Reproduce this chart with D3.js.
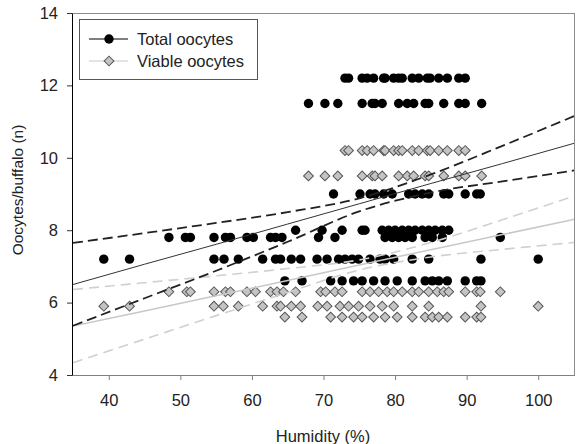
<!DOCTYPE html>
<html>
<head>
<meta charset="utf-8">
<script src="https://cdn.jsdelivr.net/npm/d3@7"></script>
<style>
  body { margin: 0; background: #fff; }
  svg { display: block; font-family: "Liberation Sans", Arial, sans-serif; }
</style>
</head>
<body>
<svg id="chart"></svg>
<script>
// rows of points: one count level and the humidity values found on it
const totalLevels = [12.2, 11.5, 9.0, 8.0, 7.8, 7.2, 6.6];
const totalHumidity = [
  [73.0, 73.5, 75.4, 76.1, 77.0, 78.4, 78.6, 79.8, 80.5, 81.0, 82.4, 83.3, 84.5, 84.9, 86.1, 87.3, 88.9, 89.8],
  [67.9, 70.2, 72.0, 75.4, 76.8, 77.2, 78.2, 80.5, 81.7, 82.6, 84.2, 84.7, 86.8, 88.9, 89.8, 92.1],
  [71.4, 75.1, 76.5, 77.2, 78.4, 79.6, 81.9, 82.8, 83.8, 84.7, 86.8, 87.5, 89.8, 91.4, 91.9],
  [66.1, 69.8, 72.6, 75.4, 75.8, 78.2, 79.1, 80.0, 81.0, 81.9, 82.8, 83.8, 84.7, 85.6, 86.6, 87.5],
  [48.4, 50.7, 51.4, 54.7, 56.3, 57.0, 59.3, 60.2, 62.6, 63.3, 64.2, 69.3, 71.6, 78.6, 79.6, 80.5, 81.4, 82.4, 84.2, 85.2, 86.6, 94.7],
  [39.3, 42.9, 54.7, 56.1, 58.1, 61.5, 63.3, 64.0, 65.5, 66.8, 69.1, 70.5, 72.1, 73.0, 74.0, 74.9, 76.5, 77.9, 78.6, 79.8, 82.4, 84.7, 92.0, 100.0],
  [64.6, 67.0, 71.0, 72.6, 74.2, 75.4, 77.0, 78.6, 80.3, 82.4, 84.2, 85.2, 86.1, 87.3, 89.8, 91.4, 92.0]
];

const viableLevels = [10.2, 9.5, 6.3, 5.9, 5.6];
const viableHumidity = [
  [73.0, 73.5, 75.4, 76.1, 77.0, 78.4, 78.6, 79.8, 80.5, 81.0, 82.4, 83.3, 84.5, 84.9, 86.1, 87.3, 88.9, 89.8],
  [67.9, 70.2, 72.0, 75.4, 76.8, 77.2, 78.2, 80.5, 81.7, 82.6, 84.2, 84.7, 86.8, 88.9, 89.8, 92.1],
  [48.4, 50.9, 51.4, 54.7, 56.3, 57.0, 59.3, 60.5, 62.6, 63.5, 64.4, 66.1, 69.6, 70.3, 71.6, 72.6, 75.4, 76.5, 77.7, 78.9, 79.8, 81.0, 82.4, 83.3, 84.7, 85.9, 86.8, 87.5, 89.8, 91.4, 91.9, 94.7],
  [39.3, 42.9, 54.7, 56.0, 58.1, 61.5, 63.5, 64.0, 65.5, 66.8, 69.2, 70.5, 72.3, 73.5, 74.9, 76.5, 78.2, 79.8, 82.4, 84.7, 92.0, 100.0],
  [64.6, 67.0, 71.0, 72.6, 74.2, 75.4, 77.0, 78.6, 80.3, 82.4, 84.2, 85.2, 86.1, 87.3, 89.8, 91.4, 92.0]
];

// regression lines and 95% bands, read at these humidities
const bandX = [35, 45, 55, 65, 75, 85, 95, 105];
const totalFit = [6.50, 7.06, 7.61, 8.17, 8.73, 9.29, 9.84, 10.40];
const totalUpper = [7.65, 7.92, 8.20, 8.50, 8.88, 9.54, 10.33, 11.15];
const totalLower = [5.36, 6.12, 6.88, 7.68, 8.52, 9.04, 9.35, 9.65];
const viableFit = [5.35, 5.77, 6.19, 6.61, 7.04, 7.46, 7.88, 8.30];
const viableUpper = [6.36, 6.55, 6.74, 6.94, 7.18, 7.66, 8.29, 8.94];
const viableLower = [4.34, 4.99, 5.64, 6.28, 6.90, 7.26, 7.47, 7.66];

const xTicks = [40, 50, 60, 70, 80, 90, 100];
const yTicks = [4, 6, 8, 10, 12, 14];
const seriesNames = ["Total oocytes", "Viable oocytes"];

const W = 576, H = 444;
const svg = d3.select("#chart").attr("width", W).attr("height", H);

const x = d3.scaleLinear().domain([35, 105]).range([73, 574]);
const y = d3.scaleLinear().domain([4, 14]).range([375, 13]);

// frame
svg.append("rect")
  .attr("x", 72.5).attr("y", 13.5)
  .attr("width", 574.5 - 72.5).attr("height", 375.5 - 13.5)
  .attr("fill", "none").attr("stroke", "#8c8c8c").attr("stroke-width", 1);

// points
const totalPts = totalLevels.flatMap((v, i) => totalHumidity[i].map(h => ({h: h, v: v})));
const viablePts = viableLevels.flatMap((v, i) => viableHumidity[i].map(h => ({h: h, v: v})));

svg.append("g").selectAll("circle")
  .data(totalPts).enter().append("circle")
  .attr("cx", d => x(d.h)).attr("cy", d => y(d.v))
  .attr("r", 4.7).attr("fill", "#000");

const diamond = d3.symbol().type(d3.symbolSquare).size(48);
svg.append("g").selectAll("path")
  .data(viablePts).enter().append("path")
  .attr("d", diamond)
  .attr("transform", d => `translate(${x(d.h)},${y(d.v)}) rotate(45)`)
  .attr("fill", "#c4c4c4").attr("stroke", "#555").attr("stroke-width", 1);

// fit lines and bands
const line = d3.line().x((d, i) => x(bandX[i])).y(d => y(d)).curve(d3.curveMonotoneX);
const lines = [
  {d: viableUpper, c: "#d0d0d0", w: 1.6, dash: "10,6"},
  {d: viableLower, c: "#d0d0d0", w: 1.6, dash: "10,6"},
  {d: viableFit, c: "#c8c8c8", w: 1.5, dash: null},
  {d: totalUpper, c: "#222", w: 1.8, dash: "10,5"},
  {d: totalLower, c: "#222", w: 1.8, dash: "10,5"},
  {d: totalFit, c: "#333", w: 1, dash: null}
];
svg.append("g").selectAll("path")
  .data(lines).enter().append("path")
  .attr("d", d => line(d.d))
  .attr("fill", "none")
  .attr("stroke", d => d.c)
  .attr("stroke-width", d => d.w)
  .attr("stroke-dasharray", d => d.dash);

// axes
const xAxis = svg.append("g").attr("transform", "translate(0,375)")
  .call(d3.axisBottom(x).tickValues(xTicks).tickSize(5).tickSizeOuter(0).tickPadding(14));
xAxis.select(".domain").attr("stroke", "#808080");
xAxis.selectAll(".tick line").attr("stroke", "#808080");
xAxis.selectAll("text").attr("font-size", 16.5).attr("fill", "#222").attr("font-family", null);

const yAxis = svg.append("g").attr("transform", "translate(72,0)")
  .call(d3.axisLeft(y).tickValues(yTicks).tickSize(5).tickSizeOuter(0).tickPadding(9));
yAxis.select(".domain").attr("stroke", "#000");
yAxis.selectAll(".tick line").attr("stroke", "#333");
yAxis.selectAll("text").attr("font-size", 16.5).attr("fill", "#222").attr("font-family", null);

svg.append("text")
  .attr("x", 323).attr("y", 442)
  .attr("text-anchor", "middle").attr("font-size", 16.5).attr("fill", "#222")
  .text("Humidity (%)");

svg.append("text")
  .attr("transform", "translate(23,190) rotate(-90)")
  .attr("text-anchor", "middle").attr("font-size", 15.5).attr("fill", "#222")
  .text("Oocytes/buffalo (n)");

// legend
const lg = svg.append("g");
lg.append("rect")
  .attr("x", 79.5).attr("y", 19.5).attr("width", 178).attr("height", 60)
  .attr("fill", "#fff").attr("stroke", "#555").attr("stroke-width", 1);
const rows = lg.selectAll("g.row").data(seriesNames).enter().append("g")
  .attr("class", "row")
  .attr("transform", (d, i) => `translate(0,${39 + i * 22})`);
rows.append("line")
  .attr("x1", 89).attr("x2", 128).attr("y1", 0).attr("y2", 0)
  .attr("stroke", (d, i) => i === 0 ? "#000" : "#c8c8c8").attr("stroke-width", 1);
rows.filter((d, i) => i === 0).append("circle")
  .attr("cx", 109).attr("cy", 0).attr("r", 4.7).attr("fill", "#000");
rows.filter((d, i) => i === 1).append("path")
  .attr("d", diamond)
  .attr("transform", "translate(109,0) rotate(45)")
  .attr("fill", "#c4c4c4").attr("stroke", "#555");
rows.append("text")
  .attr("x", 137).attr("y", 0).attr("dy", "0.35em")
  .attr("font-size", 16.5).attr("fill", "#222")
  .text(d => d);
</script>
</body>
</html>
